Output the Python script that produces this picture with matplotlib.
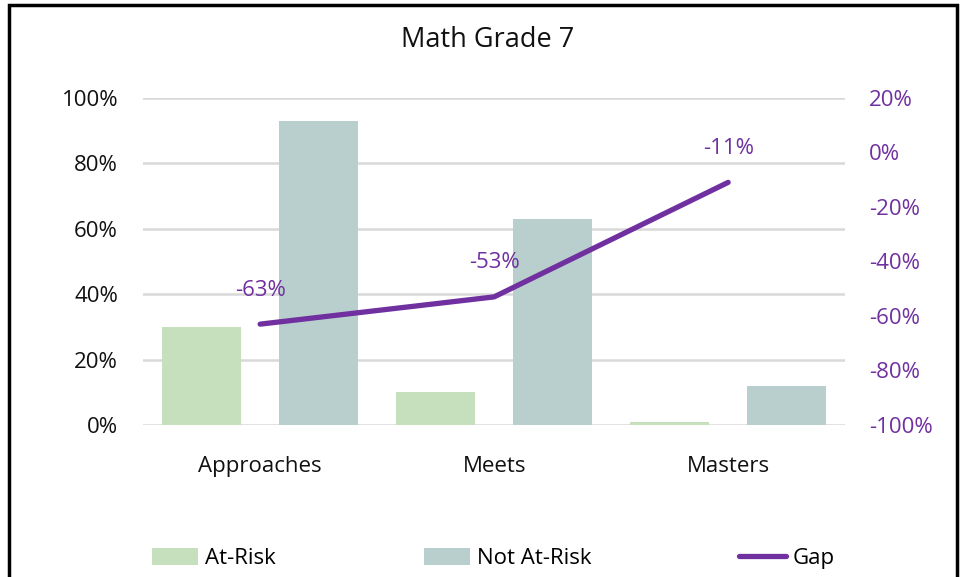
import numpy as np
import matplotlib.pyplot as plt
from matplotlib.patches import Rectangle
from matplotlib.ticker import PercentFormatter

categories = ['Approaches', 'Meets', 'Masters']
at_risk = [30, 10, 1]
not_at_risk = [93, 63, 12]
gap = [-63, -53, -11]

green = '#c6dfbd'
teal = '#b9cfcd'
purple = '#7030a0'
grid_color = '#d9d9d9'

plt.rcParams['font.family'] = ['Open Sans', 'DejaVu Sans']
plt.rcParams['axes.unicode_minus'] = False

fig = plt.figure(figsize=(9.67, 5.77), dpi=100)
ax = fig.add_axes([0.148, 0.2634, 0.726, 0.567])
ax2 = ax.twinx()

x = np.arange(len(categories))
w = 0.335
ax.bar(x - 0.25, at_risk, w, color=green, label='At-Risk', zorder=2)
ax.bar(x + 0.25, not_at_risk, w, color=teal, label='Not At-Risk', zorder=2)

ax.set_xlim(-0.5, 2.5)
ax.set_ylim(0, 100)
ax.set_yticks(np.arange(0, 101, 20))
ax.yaxis.set_major_formatter(PercentFormatter(decimals=0))
ax.grid(axis='y', color=grid_color, lw=1.8, zorder=0)
ax.set_axisbelow(True)
ax.set_xticks(x)
ax.set_xticklabels(categories)
ax.tick_params(axis='both', length=0, labelsize=16, colors='#111111')
ax.tick_params(axis='y', pad=18)
ax.tick_params(axis='x', pad=22)

ax2.plot(x, gap, color=purple, lw=3.8, solid_capstyle='round', label='Gap', zorder=3)
ax2.set_ylim(-100, 20)
ax2.set_yticks(np.arange(-100, 21, 20))
ax2.yaxis.set_major_formatter(PercentFormatter(decimals=0))
ax2.tick_params(axis='y', length=0, labelsize=16, colors=purple, pad=17)
for xi, g in zip(x, gap):
    ax2.annotate(f'{g}%', (xi, g), xytext=(0, 17), textcoords='offset points',
                 ha='center', va='bottom', color=purple, fontsize=16)

for a in (ax, ax2):
    for s in a.spines.values():
        s.set_visible(False)

fig.text(0.504, 0.931, 'Math Grade 7', fontsize=19.5, color='#111111',
         ha='center', va='center')

handles = ax.get_legend_handles_labels()[0] + ax2.get_legend_handles_labels()[0]
labels = ['At-Risk', 'Not At-Risk', 'Gap']
fig.legend(handles, labels, loc='center', bbox_to_anchor=(0.51, 0.032), ncol=3,
           frameon=False, fontsize=16, columnspacing=6.65, handlelength=2.1,
           handleheight=0.8, handletextpad=0.3)

fig.patches.append(Rectangle((0.009, -0.05), 0.981, 1.041, transform=fig.transFigure,
                             fill=False, edgecolor='black', lw=2.5))

fig.savefig('out.png', dpi=100)
